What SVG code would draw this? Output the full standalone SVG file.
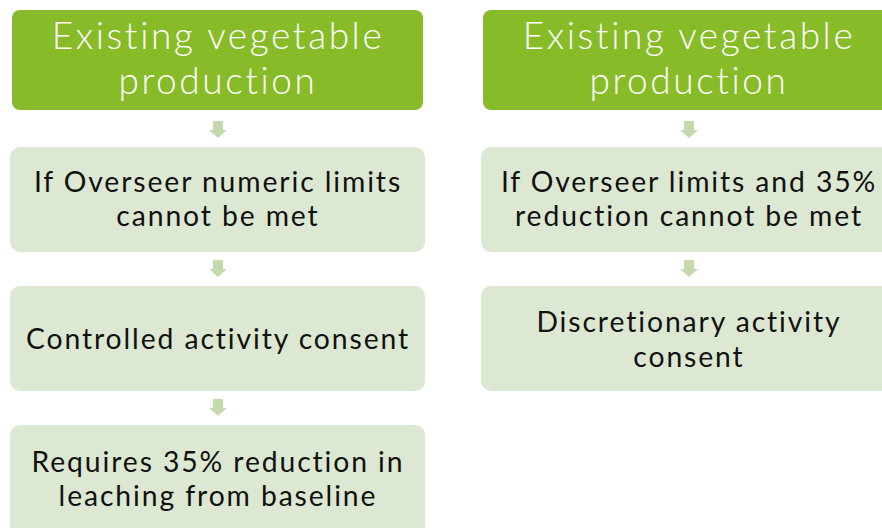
<svg xmlns="http://www.w3.org/2000/svg" width="882" height="528" viewBox="0 0 882 528">
<style>
.hdr{fill:#87BC28}
.box{fill:#DCE8D1}
.arr{fill:#C4DAAD}
.ht{font-family:Lato,"Open Sans",sans-serif;font-weight:300;font-size:37px;letter-spacing:2.6px;fill:#ffffff;text-anchor:middle}
.bt{font-family:Lato,"Open Sans",sans-serif;font-size:28.3px;letter-spacing:1.9px;fill:#111111;text-anchor:middle}
</style>
<defs>
<path id="dn" d="M-5,0 H5 V9 H9 L0,17 L-9,9 H-5 Z"/>
</defs>
<rect width="882" height="528" fill="#ffffff"/>
<g id="connectors">
<use href="#dn" class="arr" x="218" y="121"/>
<use href="#dn" class="arr" x="218" y="260"/>
<use href="#dn" class="arr" x="218" y="399"/>
<use href="#dn" class="arr" x="689" y="121"/>
<use href="#dn" class="arr" x="689" y="260"/>
</g>
<g id="L1">
<rect class="hdr" x="12" y="10" width="411" height="100" rx="8"/>
<text class="ht" x="218" y="49">Existing vegetable</text>
<text class="ht" x="218" y="94">production</text>
</g>
<g id="L2">
<rect class="box" x="10" y="147" width="415" height="105" rx="10"/>
<text class="bt" x="218" y="192">If Overseer numeric limits</text>
<text class="bt" x="218" y="226">cannot be met</text>
</g>
<g id="L3">
<rect class="box" x="10" y="286" width="415" height="105" rx="10"/>
<text class="bt" x="218" y="349">Controlled activity consent</text>
</g>
<g id="L4">
<rect class="box" x="10" y="425" width="415" height="115" rx="10"/>
<text class="bt" x="218" y="472">Requires 35% reduction in</text>
<text class="bt" x="218" y="506">leaching from baseline</text>
</g>
<g id="R1">
<rect class="hdr" x="483" y="10" width="413" height="100" rx="8"/>
<text class="ht" x="689" y="49">Existing vegetable</text>
<text class="ht" x="689" y="94">production</text>
</g>
<g id="R2">
<rect class="box" x="481" y="147" width="415" height="105" rx="10"/>
<text class="bt" x="689" y="192">If Overseer limits and 35%</text>
<text class="bt" x="689" y="226">reduction cannot be met</text>
</g>
<g id="R3">
<rect class="box" x="481" y="286" width="415" height="105" rx="10"/>
<text class="bt" x="689" y="332">Discretionary activity</text>
<text class="bt" x="689" y="367">consent</text>
</g>
</svg>
